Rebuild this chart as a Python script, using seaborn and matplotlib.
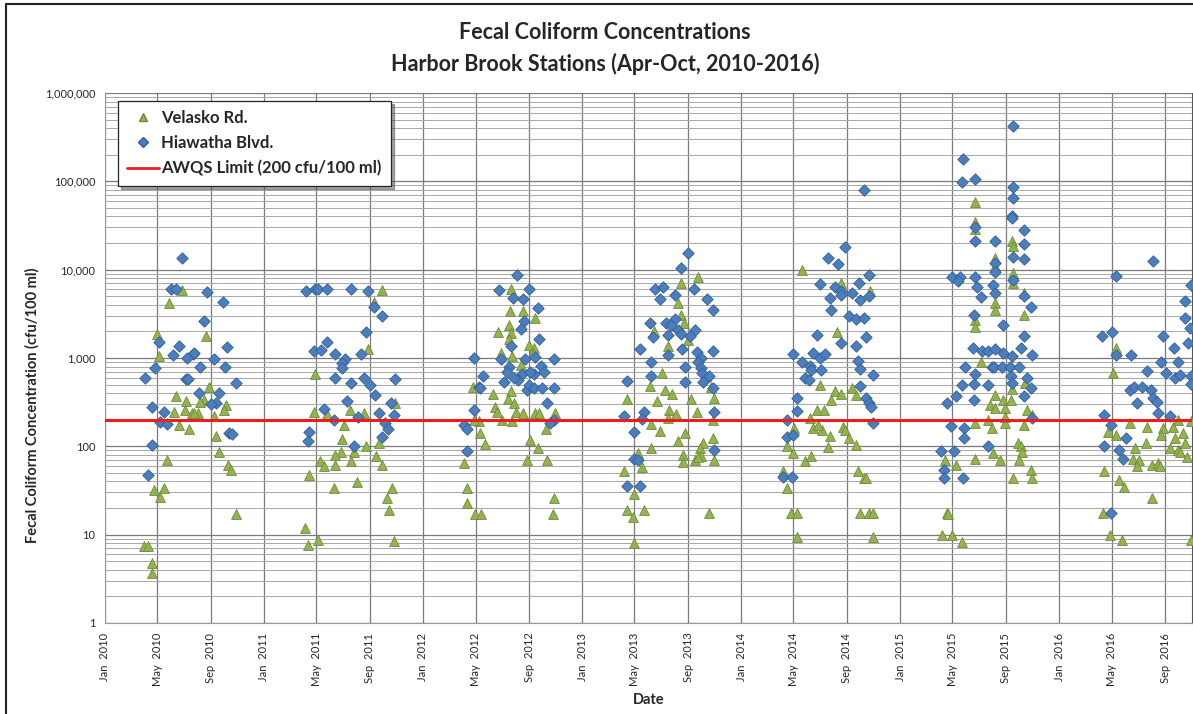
import pandas as pd
import numpy as np
import matplotlib
matplotlib.use("Agg")
import matplotlib.pyplot as plt
import matplotlib.dates as mdates
from matplotlib.ticker import FuncFormatter, LogLocator, NullFormatter
from matplotlib.lines import Line2D
import seaborn as sns

# Velasko Rd. samples
velasko_dates = [
    "2010-04-01", "2010-04-10", "2010-04-18", "2010-04-18", "2010-04-24", "2010-05-16", "2010-05-08", "2010-05-23",
    "2010-05-01", "2010-05-05", "2010-05-28", "2010-06-28", "2010-08-22", "2010-08-27", "2010-06-13", "2010-07-06",
    "2010-08-16", "2010-08-08", "2010-10-07", "2010-10-01", "2010-07-03", "2010-07-19", "2010-08-02", "2010-07-25",
    "2010-06-08", "2010-09-09", "2010-06-19", "2010-07-13", "2010-09-14", "2010-09-20", "2010-10-10", "2010-10-18",
    "2010-10-28",
    "2011-09-29", "2011-09-10", "2011-08-28", "2011-04-28", "2011-10-30", "2011-04-26", "2011-07-17", "2011-08-18",
    "2011-05-25", "2011-07-04", "2011-06-29", "2011-09-22", "2011-08-24", "2011-06-27", "2011-06-13", "2011-07-28",
    "2011-07-21", "2011-05-10", "2011-05-19", "2011-06-14", "2011-09-16", "2011-09-29", "2011-04-14", "2011-06-11",
    "2011-08-02", "2011-10-23", "2011-10-11", "2011-10-15", "2011-04-06", "2011-04-12", "2011-05-05", "2011-10-26",
    "2012-07-21", "2012-07-20", "2012-08-18", "2012-09-15", "2012-06-22", "2012-07-18", "2012-07-22", "2012-07-16",
    "2012-09-01", "2012-09-12", "2012-09-11", "2012-06-28", "2012-07-23", "2012-08-14", "2012-04-26", "2012-07-21",
    "2012-07-14", "2012-07-28", "2012-06-09", "2012-06-14", "2012-06-19", "2012-08-03", "2012-08-18", "2012-07-01",
    "2012-07-23", "2012-09-15", "2012-09-24", "2012-10-30", "2012-05-10", "2012-04-27", "2012-05-11", "2012-05-22",
    "2012-09-03", "2012-09-21", "2012-10-09", "2012-04-05", "2012-08-28", "2012-10-12", "2012-04-12", "2012-04-11",
    "2012-04-30", "2012-05-14", "2012-10-28", "2012-10-27",
    "2013-09-24", "2013-08-17", "2013-08-09", "2013-08-16", "2013-08-22", "2013-06-16", "2013-09-01", "2013-07-17",
    "2013-07-04", "2013-06-06", "2013-10-12", "2013-10-24", "2013-07-11", "2013-07-27", "2013-04-15", "2013-06-22",
    "2013-09-08", "2013-10-31", "2013-07-20", "2013-08-05", "2013-07-17", "2013-09-22", "2013-10-28", "2013-06-08",
    "2013-06-28", "2013-08-25", "2013-08-08", "2013-10-28", "2013-06-08", "2013-10-05", "2013-09-29", "2013-10-01",
    "2013-08-20", "2013-08-21", "2013-09-16", "2013-09-25", "2013-10-31", "2013-05-19", "2013-05-09", "2013-04-08",
    "2013-05-01", "2013-04-13", "2013-04-28", "2013-05-22", "2013-10-20", "2013-04-30",
    "2014-05-20", "2014-08-19", "2014-10-24", "2014-08-09", "2014-07-01", "2014-08-04", "2014-08-19", "2014-07-26",
    "2014-09-12", "2014-09-22", "2014-06-25", "2014-07-10", "2014-06-09", "2014-05-03", "2014-06-14", "2014-07-05",
    "2014-06-26", "2014-08-23", "2014-08-27", "2014-07-24", "2014-09-06", "2014-07-20", "2014-09-22", "2014-04-16",
    "2014-04-30", "2014-05-28", "2014-06-11", "2014-04-08", "2014-04-16", "2014-09-26", "2014-10-11", "2014-10-15",
    "2014-04-25", "2014-05-09", "2014-10-02", "2014-10-22", "2014-10-30", "2014-05-10", "2014-10-30",
    "2015-06-22", "2015-06-21", "2015-06-21", "2015-09-16", "2015-09-17", "2015-08-07", "2015-08-07", "2015-09-17",
    "2015-09-17", "2015-08-08", "2015-08-08", "2015-10-12", "2015-10-13", "2015-06-21", "2015-06-21", "2015-07-06",
    "2015-10-15", "2015-08-07", "2015-08-25", "2015-09-13", "2015-09-16", "2015-07-27", "2015-08-07", "2015-08-29",
    "2015-10-20", "2015-10-31", "2015-06-21", "2015-07-21", "2015-08-30", "2015-08-31", "2015-08-01", "2015-10-13",
    "2015-08-02", "2015-08-19", "2015-06-22", "2015-05-09", "2015-04-14", "2015-09-28", "2015-10-05", "2015-10-09",
    "2015-09-30", "2015-09-17", "2015-10-28", "2015-10-30", "2015-04-19", "2015-04-20", "2015-04-07", "2015-05-01",
    "2015-05-24",
    "2016-05-10", "2016-05-03", "2016-06-12", "2016-07-21", "2016-08-26", "2016-09-19", "2016-10-01", "2016-10-31",
    "2016-04-22", "2016-05-11", "2016-08-22", "2016-09-23", "2016-10-11", "2016-06-24", "2016-07-18", "2016-09-11",
    "2016-10-01", "2016-10-17", "2016-06-18", "2016-07-03", "2016-06-29", "2016-08-01", "2016-08-16", "2016-08-20",
    "2016-10-05", "2016-10-21", "2016-04-14", "2016-05-17", "2016-05-29", "2016-08-01", "2016-04-10", "2016-04-27",
    "2016-05-25", "2016-10-29",
]
velasko_values = [
    7.5, 7.5, 4.8, 3.7, 32, 34, 27, 70,
    1850, 1050, 4200, 5900, 1750, 470, 370, 325,
    330, 320, 290, 257, 257, 240, 240, 240,
    243, 220, 174, 155, 131, 87, 62, 54,
    17,
    5900, 4300, 1260, 660, 310, 245, 257, 237,
    235, 174, 121, 110, 100, 87, 80, 87,
    69, 69, 60, 62, 78, 62, 47, 34,
    39, 34, 26, 19, 11.8, 7.6, 8.7, 8.5,
    6000, 3400, 3400, 2800, 1950, 2350, 1900, 1650,
    1410, 1290, 1130, 1130, 1040, 830, 475, 425,
    340, 310, 390, 280, 243, 245, 237, 200,
    192, 237, 237, 237, 192, 200, 143, 107,
    118, 95, 155, 65, 70, 70, 34, 23,
    17, 17, 26, 17,
    8300, 7000, 4200, 3100, 2470, 2000, 1600, 1350,
    670, 480, 630, 475, 435, 390, 340, 325,
    340, 350, 257, 230, 208, 245, 200, 178,
    148, 143, 116, 123, 95, 108, 95, 78,
    80, 67, 70, 76, 70, 59, 83, 53,
    29, 19, 15.8, 19, 17.5, 8,
    10000, 7000, 5800, 1950, 500, 425, 390, 335,
    455, 380, 260, 260, 208, 160, 160, 154,
    174, 167, 154, 131, 123, 98, 104, 100,
    83, 69, 78, 52, 33.5, 52, 44, 44,
    17.5, 17.5, 17.5, 17.5, 17.5, 9.5, 9.5,
    59000, 35000, 29000, 21000, 18600, 13500, 11000, 9100,
    7100, 4200, 3500, 5500, 3100, 2700, 2260, 910,
    520, 380, 335, 335, 445, 290, 270, 270,
    257, 226, 185, 200, 182, 217, 160, 174,
    85, 70, 71, 62, 70, 108, 100, 87,
    70, 44, 54, 44, 17.5, 17, 10, 10,
    8.3,
    1290, 670, 182, 167, 160, 167, 200, 192,
    147, 135, 135, 123, 140, 95, 108, 95,
    91, 108, 71, 70, 60, 62, 64, 60,
    87, 76, 53, 42, 35, 26, 17.5, 10,
    8.7, 8.7,
]

# Hiawatha Blvd. samples
hiawatha_dates = [
    "2010-06-27", "2010-06-01", "2010-06-13", "2010-08-23", "2010-09-29", "2010-08-16", "2010-05-05", "2010-06-21",
    "2010-06-07", "2010-07-21", "2010-07-25", "2010-07-08", "2010-10-08", "2010-09-09", "2010-04-26", "2010-08-08",
    "2010-10-03", "2010-04-03", "2010-07-06", "2010-07-11", "2010-10-28", "2010-08-04", "2010-09-20", "2010-09-12",
    "2010-09-01", "2010-04-18", "2010-05-16", "2010-05-08", "2010-05-23", "2010-10-12", "2010-10-20", "2010-04-20",
    "2010-04-10",
    "2011-04-07", "2011-04-28", "2011-05-05", "2011-05-26", "2011-07-20", "2011-08-27", "2011-09-10", "2011-09-29",
    "2011-08-24", "2011-05-25", "2011-04-26", "2011-05-13", "2011-06-13", "2011-08-11", "2011-07-06", "2011-06-30",
    "2011-06-29", "2011-06-13", "2011-07-21", "2011-08-18", "2011-09-01", "2011-10-28", "2011-09-14", "2011-07-10",
    "2011-10-19", "2011-05-19", "2011-09-22", "2011-10-26", "2011-08-05", "2011-06-11", "2011-10-07", "2011-10-13",
    "2011-04-14", "2011-04-13", "2011-09-29", "2011-07-27",
    "2012-08-04", "2012-06-24", "2012-09-01", "2012-07-27", "2012-08-18", "2012-09-22", "2012-08-21", "2012-08-13",
    "2012-09-23", "2012-07-22", "2012-04-27", "2012-06-28", "2012-08-23", "2012-09-14", "2012-10-28", "2012-07-17",
    "2012-07-12", "2012-07-06", "2012-09-29", "2012-10-06", "2012-08-16", "2012-08-07", "2012-07-28", "2012-09-12",
    "2012-09-03", "2012-05-18", "2012-05-09", "2012-05-11", "2012-08-28", "2012-09-01", "2012-09-13", "2012-09-30",
    "2012-10-28", "2012-10-12", "2012-04-27", "2012-04-04", "2012-04-12", "2012-10-29", "2012-10-20", "2012-04-12",
    "2013-09-02", "2013-08-17", "2013-06-18", "2013-07-06", "2013-08-03", "2013-06-28", "2013-09-15", "2013-10-14",
    "2013-10-28", "2013-06-06", "2013-07-13", "2013-08-01", "2013-07-25", "2013-08-09", "2013-08-16", "2013-07-17",
    "2013-06-12", "2013-09-16", "2013-09-06", "2013-05-13", "2013-08-19", "2013-07-18", "2013-09-22", "2013-09-30",
    "2013-09-24", "2013-10-28", "2013-06-08", "2013-08-24", "2013-10-01", "2013-10-04", "2013-10-20", "2013-06-09",
    "2013-04-15", "2013-08-25", "2013-10-05", "2013-10-28", "2013-10-31", "2013-05-24", "2013-04-08", "2013-05-19",
    "2013-04-29", "2013-10-31", "2013-04-30", "2013-05-09", "2013-04-13", "2013-05-14",
    "2014-10-10", "2014-08-27", "2014-07-20", "2014-08-12", "2014-10-21", "2014-09-28", "2014-07-01", "2014-08-04",
    "2014-08-18", "2014-08-19", "2014-09-12", "2014-10-22", "2014-07-24", "2014-09-30", "2014-07-26", "2014-09-06",
    "2014-09-22", "2014-10-10", "2014-06-25", "2014-10-15", "2014-08-19", "2014-09-22", "2014-05-01", "2014-05-20",
    "2014-06-16", "2014-07-01", "2014-07-13", "2014-06-09", "2014-06-11", "2014-07-04", "2014-09-26", "2014-09-30",
    "2014-05-27", "2014-06-05", "2014-10-30", "2014-09-30", "2014-05-09", "2014-10-15", "2014-10-22", "2014-10-26",
    "2014-05-10", "2014-04-16", "2014-10-30", "2014-04-16", "2014-04-30", "2014-04-08", "2014-04-27",
    "2015-09-17", "2015-05-25", "2015-05-24", "2015-06-22", "2015-09-17", "2015-09-17", "2015-09-16", "2015-09-16",
    "2015-06-22", "2015-10-12", "2015-06-21", "2015-08-07", "2015-10-13", "2015-09-17", "2015-10-12", "2015-08-07",
    "2015-08-08", "2015-05-01", "2015-05-18", "2015-06-22", "2015-05-13", "2015-06-27", "2015-07-06", "2015-08-02",
    "2015-08-07", "2015-09-17", "2015-10-12", "2015-10-29", "2015-06-20", "2015-08-25", "2015-10-12", "2015-06-18",
    "2015-07-09", "2015-07-22", "2015-08-07", "2015-08-25", "2015-09-14", "2015-10-06", "2015-10-31", "2015-05-30",
    "2015-06-22", "2015-05-24", "2015-06-20", "2015-07-30", "2015-08-05", "2015-08-23", "2015-09-11", "2015-09-30",
    "2015-09-13", "2015-09-14", "2015-10-20", "2015-07-21", "2015-05-09", "2015-06-20", "2015-10-13", "2015-10-28",
    "2015-04-19", "2015-04-28", "2015-05-27", "2015-05-27", "2015-10-30", "2015-07-21", "2015-04-06", "2015-05-06",
    "2015-04-13", "2015-04-13", "2015-05-25",
    "2016-08-05", "2016-05-10", "2016-10-31", "2016-10-16", "2016-10-17", "2016-10-28", "2016-10-23", "2016-04-09",
    "2016-05-02", "2016-08-26", "2016-09-21", "2016-05-11", "2016-06-14", "2016-08-22", "2016-10-01", "2016-07-22",
    "2016-09-03", "2016-09-23", "2016-10-05", "2016-10-29", "2016-10-30", "2016-06-11", "2016-06-22", "2016-07-09",
    "2016-07-31", "2016-06-28", "2016-08-05", "2016-08-12", "2016-08-15", "2016-09-11", "2016-04-14", "2016-04-29",
    "2016-06-02", "2016-04-13", "2016-05-17", "2016-05-26", "2016-04-29",
]
hiawatha_values = [
    13500, 6000, 6000, 5600, 4300, 2600, 1500, 1380,
    1080, 1120, 1150, 1000, 1320, 975, 770, 800,
    800, 600, 575, 575, 520, 400, 400, 310,
    300, 280, 247, 190, 180, 140, 138, 104,
    47,
    5700, 6000, 6000, 6000, 6000, 5700, 3800, 3000,
    1950, 1500, 1200, 1230, 1100, 1100, 980, 870,
    760, 600, 520, 600, 500, 580, 380, 325,
    310, 265, 237, 226, 217, 200, 182, 155,
    147, 115, 126, 100,
    8700, 5900, 6000, 4800, 4650, 3650, 2630, 2140,
    1630, 1380, 1000, 980, 980, 1030, 980, 800,
    700, 540, 815, 700, 660, 565, 590, 660,
    700, 630, 475, 455, 435, 500, 460, 460,
    455, 313, 257, 174, 155, 200, 182, 89,
    15600, 10500, 6000, 6300, 5100, 4650, 6000, 4700,
    3450, 2500, 2500, 2750, 2350, 2100, 1870, 1820,
    1720, 2050, 1780, 1260, 1260, 1070, 1170, 1000,
    890, 1210, 910, 800, 770, 670, 630, 630,
    550, 540, 540, 455, 245, 245, 220, 205,
    147, 91, 72, 70, 35.5, 35.5,
    80000, 18000, 13500, 11700, 8700, 7100, 6900, 6400,
    5800, 5200, 5400, 5000, 4800, 4500, 3500, 2950,
    2750, 2830, 1830, 1740, 1490, 1350, 1110, 890,
    1130, 1000, 1110, 810, 730, 730, 930, 750,
    590, 565, 645, 480, 355, 350, 310, 277,
    253, 200, 182, 129, 135, 45, 45,
    425000, 178000, 97000, 105000, 87000, 64000, 40000, 38000,
    30000, 28000, 21000, 21000, 19500, 14000, 13100, 12000,
    9300, 8300, 8300, 8300, 7400, 6400, 4900, 6700,
    5500, 7600, 5000, 3800, 3100, 2350, 1780, 1290,
    1210, 1210, 1250, 1130, 1040, 1290, 1080, 800,
    660, 500, 510, 800, 800, 800, 800, 800,
    630, 525, 600, 500, 370, 335, 370, 455,
    312, 170, 160, 123, 208, 100, 89, 89,
    54, 44, 44,
    12600, 8500, 6700, 4450, 2800, 2180, 1490, 1790,
    1990, 1790, 1290, 1080, 1080, 910, 890, 720,
    680, 590, 645, 630, 510, 435, 465, 465,
    435, 313, 350, 320, 240, 220, 226, 174,
    123, 100, 91, 71, 17.8,
]

limit_value = 200
station_names = ["Velasko Rd.", "Hiawatha Blvd."]
limit_label = "AWQS Limit (200 cfu/100 ml)"
title_lines = ["Fecal Coliform Concentrations", "Harbor Brook Stations (Apr-Oct, 2010-2016)"]

velasko = pd.DataFrame({"date": pd.to_datetime(velasko_dates), "value": velasko_values})
hiawatha = pd.DataFrame({"date": pd.to_datetime(hiawatha_dates), "value": hiawatha_values})

sns.set_style("white")
plt.rcParams["font.family"] = ["Lato", "DejaVu Sans"]

fig = plt.figure(figsize=(11.93, 7.14), dpi=100)
ax = fig.add_axes([0.088, 0.1275, 0.911, 0.7423])

green = "#93b34f"
blue = "#4a7ebf"

sns.scatterplot(data=velasko, x="date", y="value", ax=ax, marker="^", s=50,
                color=green, edgecolor="#6f8a3a", linewidth=0.6, zorder=3)
sns.scatterplot(data=hiawatha, x="date", y="value", ax=ax, marker="D", s=34,
                color=blue, edgecolor="#365f91", linewidth=0.6, zorder=4)
ax.axhline(limit_value, color="#ee1c1c", lw=2.2, zorder=5)

ax.set_yscale("log")
ax.set_ylim(1, 1e6)
ax.set_xlim(pd.Timestamp("2010-01-01"), pd.Timestamp("2016-11-01"))

ax.yaxis.set_major_formatter(FuncFormatter(lambda v, p: f"{v:,.0f}"))
ax.yaxis.set_minor_locator(LogLocator(base=10, subs=np.arange(2, 10)))
ax.yaxis.set_minor_formatter(NullFormatter())

ax.xaxis.set_major_locator(mdates.MonthLocator(bymonth=[1, 5, 9]))
ax.xaxis.set_minor_locator(mdates.MonthLocator())
ax.xaxis.set_major_formatter(mdates.DateFormatter("%b  %Y"))
ax.xaxis.set_minor_formatter(NullFormatter())
for lab in ax.get_xticklabels():
    lab.set_rotation(90)

ax.tick_params(axis="x", which="major", labelsize=8, length=4, color="#999999", pad=3)
ax.tick_params(axis="x", which="minor", length=3, color="#999999")
ax.tick_params(axis="y", which="major", labelsize=8, length=4, color="#999999", pad=3)
ax.tick_params(axis="y", which="minor", length=0)

ax.grid(which="major", axis="both", color="#7a7a7a", lw=0.9)
ax.grid(which="minor", axis="y", color="#a8a8a8", lw=0.7)
ax.set_axisbelow(True)
for side in ["left", "bottom"]:
    ax.spines[side].set_color("#999999")
ax.spines["top"].set_visible(False)
ax.spines["right"].set_color("#555555")

ax.set_xlabel("Date", fontsize=10.5, fontweight="bold", labelpad=5)
ax.set_ylabel("Fecal Coliform Concentration (cfu/100 ml)", fontsize=10.5, fontweight="bold")
ax.yaxis.set_label_coords(-0.06, 0.41)

fig.text(0.507, 0.954, title_lines[0], ha="center", va="center", fontsize=15.5, fontweight="bold")
fig.text(0.507, 0.910, title_lines[1], ha="center", va="center", fontsize=15.5, fontweight="bold")

handles = [
    Line2D([], [], marker="^", ls="", color=green, markeredgecolor="#6f8a3a", markersize=6),
    Line2D([], [], marker="D", ls="", color=blue, markeredgecolor="#365f91", markersize=5),
    Line2D([], [], color="#ee1c1c", lw=2),
]
leg = ax.legend(handles, station_names + [limit_label], loc="upper left",
                bbox_to_anchor=(0.012, 0.985), frameon=True, fancybox=False, shadow=True,
                prop={"weight": "bold", "size": 12}, handlelength=1.9, handletextpad=0.15,
                labelspacing=0.55, borderpad=0.55, borderaxespad=0, framealpha=1)
leg.get_frame().set_edgecolor("#222222")
leg.get_frame().set_linewidth(0.9)
leg.set_zorder(10)

# chart border
fig.add_artist(Line2D([0.005, 0.005], [0, 0.995], color="#222222", lw=1.5))
fig.add_artist(Line2D([0.005, 1], [0.995, 0.995], color="#222222", lw=1.5))

fig.savefig("out.png", dpi=100)
